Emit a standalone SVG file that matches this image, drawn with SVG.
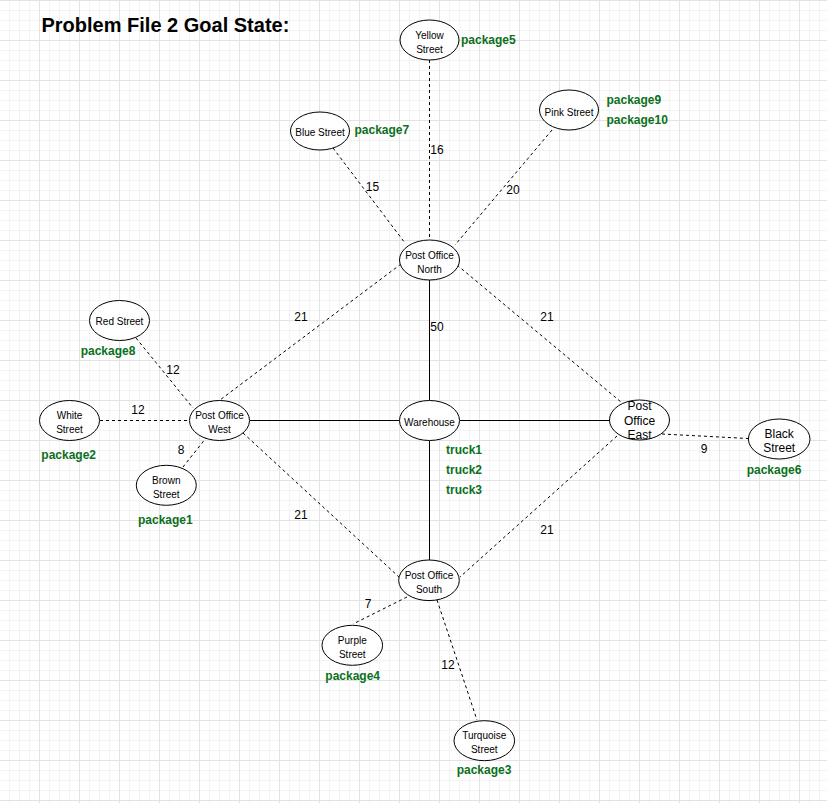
<svg xmlns="http://www.w3.org/2000/svg" width="827" height="803" viewBox="0 0 827 803">
<defs>
<pattern id="grid" patternUnits="userSpaceOnUse" x="-1" y="0" width="40" height="40">
<path d="M10.5 0V40M20.5 0V40M30.5 0V40M0 10.5H40M0 20.5H40M0 30.5H40" stroke="#f3f3f3" stroke-width="1" fill="none"/>
<path d="M0.5 0V40M0 0.5H40" stroke="#e3e3e3" stroke-width="1" fill="none"/>
</pattern>
<style>
.n ellipse{fill:#fff;stroke:#000;stroke-width:1}
.t{font-family:"Liberation Sans",Arial,sans-serif;font-size:10px;fill:#000;text-anchor:middle}
.t12{font-family:"Liberation Sans",Arial,sans-serif;font-size:12px;fill:#000;text-anchor:middle}
.pk{font-family:"Liberation Sans",Arial,sans-serif;font-size:12px;font-weight:bold;fill:#0a7020}
.el{font-family:"Liberation Sans",Arial,sans-serif;font-size:12px;fill:#000;text-anchor:middle}
.s{stroke:#000;stroke-width:1;fill:none}
.d{stroke:#000;stroke-width:1;fill:none;stroke-dasharray:3 3}
</style>
</defs>
<rect width="827" height="803" fill="#fff"/>
<rect width="827" height="803" fill="url(#grid)"/>
<text x="41.5" y="32" style="font-family:'Liberation Sans',Arial,sans-serif;font-size:20px;font-weight:bold" fill="#000">Problem File 2 Goal State:</text>
<g id="connectors">
<path class="s" d="M429.5 280V400"/>
<path class="s" d="M250 420.5H399.5"/>
<path class="s" d="M460 420.5H609.5"/>
<path class="s" d="M429.5 441V560"/>
<path class="d" d="M429.5 60V240"/>
<path class="d" d="M333 148L405 243"/>
<path class="d" d="M552 130L455 245"/>
<path class="d" d="M401 264L220 400"/>
<path class="d" d="M457 265L621 402"/>
<path class="d" d="M243 433L399 577"/>
<path class="d" d="M617 436L460 577"/>
<path class="d" d="M136 338L193 408"/>
<path class="d" d="M100 420.5H189"/>
<path class="d" d="M183 467L206 438"/>
<path class="d" d="M662 434L748 438.5"/>
<path class="d" d="M407 597L353 624"/>
<path class="d" d="M437 600L477 720"/>
<text class="el" x="437" y="154.3">16</text>
<text class="el" x="372.5" y="191.3">15</text>
<text class="el" x="513" y="194.3">20</text>
<text class="el" x="301" y="321.3">21</text>
<text class="el" x="547" y="321.3">21</text>
<text class="el" x="437" y="331.3">50</text>
<text class="el" x="173" y="374.3">12</text>
<text class="el" x="138" y="414.3">12</text>
<text class="el" x="181" y="454.3">8</text>
<text class="el" x="704" y="453.3">9</text>
<text class="el" x="301" y="519.3">21</text>
<text class="el" x="547" y="534.3">21</text>
<text class="el" x="368" y="608.3">7</text>
<text class="el" x="448" y="669.3">12</text>
</g>
<g id="yellow" class="n"><ellipse cx="429.5" cy="40" rx="29.5" ry="20"/><text class="t" x="429.5" y="38.5">Yellow</text><text class="t" x="429.5" y="52.5">Street</text><text class="pk" x="461" y="44.3">package5</text></g>
<g id="blue" class="n"><ellipse cx="320" cy="131" rx="29.5" ry="19"/><text class="t" x="320" y="135.5">Blue Street</text><text class="pk" x="354.5" y="134.3">package7</text></g>
<g id="pink" class="n"><ellipse cx="569" cy="110" rx="29.5" ry="20"/><text class="t" x="569" y="115.5">Pink Street</text><text class="pk" x="606.5" y="104.3">package9</text><text class="pk" x="606.5" y="124.3">package10</text></g>
<g id="po-north" class="n"><ellipse cx="429.5" cy="260" rx="30" ry="20"/><text class="t" x="429.5" y="258.5">Post Office</text><text class="t" x="429.5" y="272.5">North</text></g>
<g id="red" class="n"><ellipse cx="119.5" cy="320.5" rx="30" ry="20"/><text class="t" x="119.5" y="325.2">Red Street</text><text class="pk" x="80.7" y="355">package8</text></g>
<g id="white" class="n"><ellipse cx="69.5" cy="420.5" rx="30" ry="20"/><text class="t" x="69.5" y="419">White</text><text class="t" x="69.5" y="433">Street</text><text class="pk" x="41.3" y="459">package2</text></g>
<g id="po-west" class="n"><ellipse cx="219.5" cy="420.5" rx="30" ry="20"/><text class="t" x="219.5" y="419">Post Office</text><text class="t" x="219.5" y="433">West</text></g>
<g id="brown" class="n"><ellipse cx="166.3" cy="485.3" rx="30" ry="20"/><text class="t" x="166.3" y="483.8">Brown</text><text class="t" x="166.3" y="497.8">Street</text><text class="pk" x="138" y="524.3">package1</text></g>
<g id="warehouse" class="n"><ellipse cx="429.5" cy="420.5" rx="30" ry="20"/><text class="t" x="429.5" y="425.5">Warehouse</text><text class="pk" x="446" y="454.3">truck1</text><text class="pk" x="446" y="474.3">truck2</text><text class="pk" x="446" y="494.3">truck3</text></g>
<g id="po-east" class="n"><ellipse cx="639.5" cy="420" rx="30" ry="20"/><text class="t12" x="639.5" y="410.3">Post</text><text class="t12" x="639.5" y="424.8">Office</text><text class="t12" x="639.5" y="438.6">East</text></g>
<g id="black" class="n"><ellipse cx="779.2" cy="439" rx="30.8" ry="20"/><text class="t12" x="779.2" y="437.6">Black</text><text class="t12" x="779.2" y="451.6">Street</text><text class="pk" x="746.7" y="474.3">package6</text></g>
<g id="po-south" class="n"><ellipse cx="429" cy="580.3" rx="30.3" ry="20.3"/><text class="t" x="429" y="578.8">Post Office</text><text class="t" x="429" y="592.8">South</text></g>
<g id="purple" class="n"><ellipse cx="352.3" cy="645.3" rx="30.3" ry="20"/><text class="t" x="352.3" y="643.8">Purple</text><text class="t" x="352.3" y="657.8">Street</text><text class="pk" x="325.3" y="679.6">package4</text></g>
<g id="turquoise" class="n"><ellipse cx="484.3" cy="740.7" rx="30.3" ry="20"/><text class="t" x="484.3" y="739.2">Turquoise</text><text class="t" x="484.3" y="753.2">Street</text><text class="pk" x="456.7" y="774.3">package3</text></g>
</svg>
